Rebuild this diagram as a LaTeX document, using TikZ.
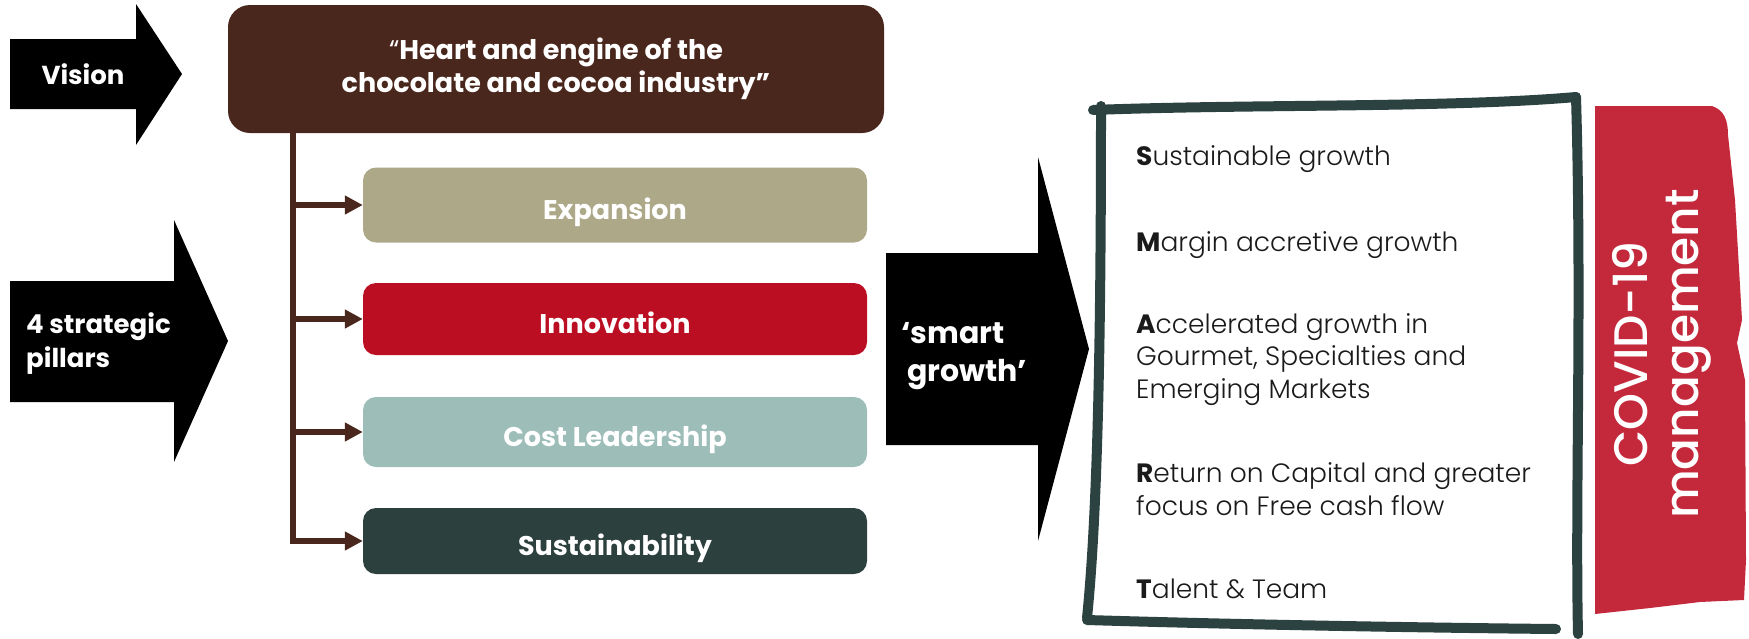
\documentclass[tikz,border=0pt]{standalone}
\usepackage{fontspec}
\setmainfont{Poppins}
\IfFontExistsTF{Poppins-Light.otf}{\newfontfamily\lightfont{Poppins-Light.otf}}{%
 \IfFontExistsTF{Poppins-Light.ttf}{\newfontfamily\lightfont{Poppins-Light.ttf}}{%
  \IfFontExistsTF{Poppins Light}{\newfontfamily\lightfont{Poppins Light}}{\newfontfamily\lightfont{Poppins}}}}
\IfFontExistsTF{Poppins-Medium.otf}{\newfontfamily\medfont{Poppins-Medium.otf}}{%
 \IfFontExistsTF{Poppins-Medium.ttf}{\newfontfamily\medfont{Poppins-Medium.ttf}}{%
  \IfFontExistsTF{Poppins Medium}{\newfontfamily\medfont{Poppins Medium}}{\newfontfamily\medfont{Poppins}}}}
\usetikzlibrary{arrows.meta}
\definecolor{brownbox}{HTML}{4A271D}
\definecolor{expcol}{HTML}{ADA888}
\definecolor{innocol}{HTML}{BC0E22}
\definecolor{costcol}{HTML}{9DBDB9}
\definecolor{sustcol}{HTML}{2C403D}
\definecolor{framecol}{HTML}{2C4240}
\definecolor{covidcol}{HTML}{C4283B}
\definecolor{listcol}{HTML}{1A1A1A}
\newcommand\ini[1]{{\normalfont\bfseries #1}}
\begin{document}
\begin{tikzpicture}[x=1pt,y=-1pt,
  bigarrow/.style={fill=black},
  arrowtext/.style={text=white,font=\bfseries\fontsize{26}{34}\selectfont,inner sep=0pt},
  pillarbox/.style={rounded corners=13pt,text=white,minimum width=504pt,
    font=\bfseries\fontsize{27}{30}\selectfont,inner sep=0pt,text height=28pt,text depth=0pt},
  conn/.style={draw=brownbox,line width=6pt,-{Triangle[length=18pt,width=18pt]}},
  item/.style={anchor=base west,inner sep=0pt,align=left,text=listcol,
    font=\lightfont\fontsize{26.5}{32.5}\selectfont},
  roughline/.style={draw=framecol,line width=10pt,line cap=round,line join=round}
]
\useasboundingbox (0,0) rectangle (1749,638);

% big black arrows
\fill[bigarrow] (10,39) -- (136,39) -- (136,4) -- (182,74) -- (136,145) -- (136,109) -- (10,109) -- cycle;
\fill[bigarrow] (10,281) -- (174,281) -- (174,220) -- (228,341) -- (174,462) -- (174,402) -- (10,402) -- cycle;
\fill[bigarrow] (886,253) -- (1038,253) -- (1038,157) -- (1089,349) -- (1038,541) -- (1038,445) -- (886,445) -- cycle;

\node[arrowtext] (visionlbl) at (83,74) {Vision};
\node[arrowtext,anchor=west,align=left] (pillarlbl) at (26,344) {4 strategic\\pillars};
\node[arrowtext,anchor=west,align=left,font=\bfseries\fontsize{30}{38}\selectfont] (smartlbl) at (901,356) {‘smart\\\hspace*{6pt}growth’};

% vision box
\node[fill=brownbox,rounded corners=22pt,minimum width=656pt,minimum height=128pt,
  text=white,align=center,font=\bfseries\fontsize{27}{33}\selectfont,inner sep=0pt] (vision) at (556,69)
  {{\normalfont “}Heart and engine of the\\chocolate and cocoa industry”};

% pillars
\node[pillarbox,fill=expcol,minimum height=75pt] (exp) at (615,205) {Expansion};
\node[pillarbox,fill=innocol,minimum height=72pt] (inno) at (615,319) {Innovation};
\node[pillarbox,fill=costcol,minimum height=70pt] (cost) at (615,432) {Cost Leadership};
\node[pillarbox,fill=sustcol,minimum height=66pt] (sust) at (615,541) {Sustainability};

% connectors
\coordinate (trunk) at ([xshift=-263pt]vision.south);
\draw[conn] (trunk) |- (exp.west);
\draw[conn] (trunk) |- (inno.west);
\draw[conn] (trunk) |- (cost.west);
\draw[conn] (trunk) |- (sust.west);

% hand-drawn frame
\draw[roughline] (1093,110) .. controls (1250,104) and (1450,108) .. (1576,97);
\draw[roughline] (1576,97) .. controls (1582,300) and (1575,500) .. (1578,634);
\draw[roughline] (1087,620) .. controls (1250,625) and (1450,628) .. (1556,629);
\draw[roughline] (1101,106) .. controls (1101,300) and (1099,500) .. (1087,618);

% SMART items
\node[item] (s) at (1136,165) {\ini{S}ustainable growth};
\node[item] (m) at (1136,251) {\ini{M}argin accretive growth};
\node[item] (a) at (1136,398) {\ini{A}ccelerated growth in\\Gourmet, Specialties and\\Emerging Markets};
\node[item] (r) at (1136,515) {\ini{R}eturn on Capital and greater\\focus on Free cash flow};
\node[item] (t) at (1136,598) {\ini{T}alent \& Team};

% COVID banner
\fill[covidcol] (1595,106) -- (1712,106) .. controls (1724,110) and (1728,120) .. (1728,135)
  -- (1735,200) -- (1742,320) -- (1737,343) -- (1745,380) -- (1746,560)
  -- (1744,600) -- (1700,602) -- (1650,608) -- (1595,614) -- cycle;
\node[text=white,rotate=90,align=center,inner sep=0pt,
  font=\medfont\fontsize{47}{51}\selectfont] (covid) at (1662,354) {COVID-19\\management};
\end{tikzpicture}
\end{document}
